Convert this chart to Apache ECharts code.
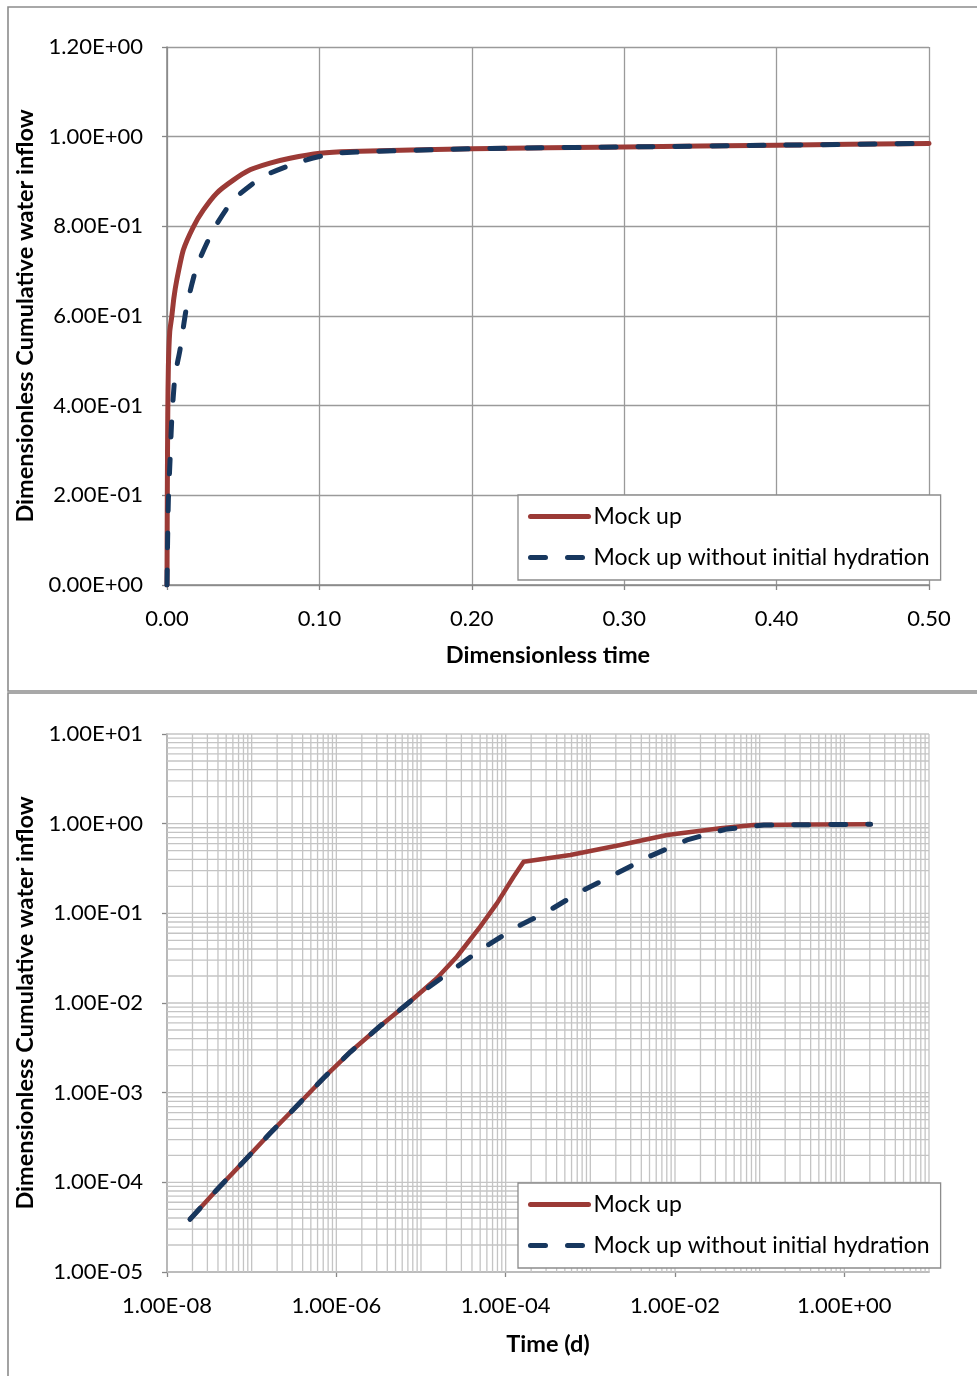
<!DOCTYPE html>
<html><head><meta charset="utf-8">
<script src="https://cdn.jsdelivr.net/npm/echarts@6/dist/echarts.min.js"></script>
<style>html,body{margin:0;padding:0;background:#fff}#c{width:977px;height:1376px}</style>
</head><body><div id="c"></div>
<script>
// ---- data ----
const seriesNames = ['Mock up', 'Mock up without initial hydration'];

// Top chart: dimensionless time vs dimensionless cumulative water inflow
const topXTicks = [0, 0.1, 0.2, 0.3, 0.4, 0.5];
const topYTicks = [0, 0.2, 0.4, 0.6, 0.8, 1.0, 1.2];
const topMockUp = [
  [0, 0], [0.0002, 0.2], [0.0005, 0.38], [0.0009, 0.487], [0.0018, 0.565], [0.0031, 0.598],
  [0.0045, 0.64], [0.0064, 0.68], [0.0107, 0.747], [0.0173, 0.799], [0.0238, 0.836],
  [0.0326, 0.874], [0.0435, 0.903], [0.0545, 0.926], [0.0676, 0.941], [0.0807, 0.952],
  [0.1004, 0.963], [0.12, 0.967], [0.2, 0.973], [0.3, 0.977], [0.4, 0.981], [0.5, 0.985]
];
const topNoHydration = [
  [0, 0], [0.0004, 0.1], [0.0009, 0.19], [0.002, 0.279], [0.0031, 0.368], [0.0052, 0.465],
  [0.0085, 0.524], [0.0129, 0.621], [0.0195, 0.71], [0.0304, 0.792], [0.0435, 0.859],
  [0.063, 0.911], [0.0873, 0.944], [0.111, 0.963], [0.2, 0.973], [0.3, 0.977], [0.4, 0.981], [0.5, 0.985]
];

// Bottom chart: time (d) vs dimensionless cumulative water inflow (log-log)
const bottomXTicks = [1e-8, 1e-6, 1e-4, 1e-2, 1];
const bottomXMax = 10;
const bottomYTicks = [1e-5, 1e-4, 1e-3, 1e-2, 1e-1, 1, 10];
const bottomMockUp = [
  [1.87e-8, 3.87e-5], [3.86e-8, 8.22e-5], [7.98e-8, 1.69e-4], [1.65e-7, 3.52e-4],
  [3.41e-7, 7.10e-4], [7.03e-7, 1.45e-3], [1.46e-6, 2.84e-3], [3.30e-6, 5.55e-3],
  [7.45e-6, 1.04e-2], [1.54e-5, 1.89e-2], [2.65e-5, 3.28e-2], [5.01e-5, 7.10e-2],
  [7.89e-5, 0.129], [1.24e-4, 0.256], [1.63e-4, 0.377], [5.81e-4, 0.448],
  [2.26e-3, 0.578], [8.07e-3, 0.748], [3.44e-2, 0.887], [8.51e-2, 0.966],
  [0.436, 0.98], [2.04, 0.985]
];
const bottomNoHydration = [
  [1.87e-8, 3.87e-5], [3.86e-8, 8.22e-5], [7.98e-8, 1.69e-4], [1.65e-7, 3.52e-4],
  [3.41e-7, 7.10e-4], [7.03e-7, 1.45e-3], [1.46e-6, 2.84e-3], [3.30e-6, 5.55e-3],
  [7.45e-6, 1.04e-2], [9.77e-6, 1.28e-2], [2.21e-5, 2.23e-2], [5.01e-5, 3.90e-2],
  [1.36e-4, 7.10e-2], [3.08e-4, 0.104], [7.62e-4, 0.174], [2.07e-3, 0.280],
  [5.12e-3, 0.436], [1.39e-2, 0.658], [3.94e-2, 0.865], [0.112, 0.966],
  [1.08, 0.98], [2.04, 0.985]
];

// ---- styling / helpers ----
const RED = '#9B3A36';
const BLUE = '#17375E';
const FONT = 'Lato';
const GRID_TOP = '#9a9a9a';
const GRID_BOT = '#c4c4c4';
const AXIS = '#868686';

function sci(v) {
  let s = Number(v).toExponential(2).toUpperCase();
  return s.replace(/E([+-])(\d)$/, 'E$10$2');
}

// decade + minor (2..9) gridline positions for the log-log chart
const xMin = bottomXTicks[0], yMin = bottomYTicks[0], yMax = bottomYTicks[bottomYTicks.length - 1];
const vGrid = [], hGrid = [];
for (let k = -8; k <= 0; k++) for (let m = 1; m <= 9; m++) vGrid.push([m * Math.pow(10, k), yMin]);
vGrid.push([bottomXMax, yMin]);
for (let k = -5; k <= 0; k++) for (let m = 1; m <= 9; m++) hGrid.push([xMin, m * Math.pow(10, k)]);
hGrid.push([xMin, yMax]);

const labelStyle = { fontFamily: FONT, fontSize: 22, color: '#000' };
const nameStyle = { fontFamily: FONT, fontSize: 23.5, fontWeight: 'bold', color: '#000' };

const legendBase = {
  orient: 'vertical', left: 518, padding: [10, 11, 11, 10],
  itemWidth: 58, itemHeight: 14, itemGap: 18,
  backgroundColor: '#fff', borderColor: '#8c8c8c', borderWidth: 1.3,
  textStyle: { fontFamily: FONT, fontSize: 23, color: '#000' },
  itemStyle: { opacity: 0 },
  lineStyle: { width: 5, cap: 'round' },
  data: seriesNames
};

function axisCommon() {
  return {
    axisLine: { show: true, lineStyle: { color: AXIS, width: 1.5 } },
    axisTick: { show: true, inside: false, length: 5, lineStyle: { color: AXIS, width: 1.3 } }
  };
}

const chart = echarts.init(document.getElementById('c'), null, { renderer: 'canvas' });
chart.setOption({
  animation: false,
  backgroundColor: '#fff',
  graphic: [
    { type: 'rect', shape: { x: 8, y: 7, width: 990, height: 684 }, style: { fill: 'none', stroke: '#8c8c8c', lineWidth: 1.6 }, z: 100, silent: true },
    { type: 'rect', shape: { x: 8, y: 693, width: 990, height: 700 }, style: { fill: 'none', stroke: '#8c8c8c', lineWidth: 1.6 }, z: 100, silent: true }
  ],
  grid: [
    { left: 167, right: 48, top: 47, height: 538, containLabel: false },
    { left: 167, right: 48, top: 734, height: 538, containLabel: false }
  ],
  legend: [
    Object.assign({}, legendBase, { top: 495 }),
    Object.assign({}, legendBase, { top: 1183 })
  ],
  xAxis: [
    Object.assign(axisCommon(), {
      gridIndex: 0, type: 'value',
      min: topXTicks[0], max: topXTicks[topXTicks.length - 1], interval: topXTicks[1] - topXTicks[0],
      name: 'Dimensionless time', nameLocation: 'middle', nameGap: 58, nameTextStyle: nameStyle,
      axisLabel: Object.assign({ margin: 23, formatter: v => Number(v).toFixed(2) }, labelStyle),
      splitLine: { show: true, lineStyle: { color: GRID_TOP, width: 1.3 } }
    }),
    Object.assign(axisCommon(), {
      gridIndex: 1, type: 'log', logBase: 10,
      min: xMin, max: bottomXMax, interval: 2,
      name: 'Time (d)', nameLocation: 'middle', nameGap: 60, nameTextStyle: nameStyle,
      axisLabel: Object.assign({ margin: 23, showMaxLabel: false, formatter: v => (v > 5 ? '' : sci(v)) }, labelStyle),
      splitLine: { show: false }
    })
  ],
  yAxis: [
    Object.assign(axisCommon(), {
      gridIndex: 0, type: 'value',
      min: topYTicks[0], max: topYTicks[topYTicks.length - 1], interval: topYTicks[1] - topYTicks[0],
      name: 'Dimensionless Cumulative water inflow', nameLocation: 'middle', nameGap: 123, nameTextStyle: nameStyle,
      axisLabel: Object.assign({ margin: 24, formatter: v => sci(v) }, labelStyle),
      splitLine: { show: true, lineStyle: { color: GRID_TOP, width: 1.3 } }
    }),
    Object.assign(axisCommon(), {
      gridIndex: 1, type: 'log', logBase: 10,
      min: yMin, max: yMax, interval: 1,
      name: 'Dimensionless Cumulative water inflow', nameLocation: 'middle', nameGap: 123, nameTextStyle: nameStyle,
      axisLabel: Object.assign({ margin: 24, formatter: v => sci(v) }, labelStyle),
      splitLine: { show: false }
    })
  ],
  series: [
    {
      name: 'vgrid', type: 'custom', xAxisIndex: 1, yAxisIndex: 1, z: 1, silent: true, clip: false,
      data: vGrid,
      renderItem: (params, api) => {
        const x = api.value(0);
        const p1 = api.coord([x, yMin]), p2 = api.coord([x, yMax]);
        return { type: 'line', shape: { x1: p1[0], y1: p1[1], x2: p2[0], y2: p2[1] }, style: { stroke: GRID_BOT, lineWidth: 1.3 } };
      }
    },
    {
      name: 'hgrid', type: 'custom', xAxisIndex: 1, yAxisIndex: 1, z: 1, silent: true, clip: false,
      data: hGrid,
      renderItem: (params, api) => {
        const y = api.value(1);
        const p1 = api.coord([xMin, y]), p2 = api.coord([bottomXMax, y]);
        return { type: 'line', shape: { x1: p1[0], y1: p1[1], x2: p2[0], y2: p2[1] }, style: { stroke: GRID_BOT, lineWidth: 1.3 } };
      }
    },
    {
      name: seriesNames[0], type: 'line', xAxisIndex: 0, yAxisIndex: 0, z: 3,
      data: topMockUp, symbol: 'none', smooth: 0.2,
      lineStyle: { color: RED, width: 5, cap: 'round', join: 'round' }, itemStyle: { color: RED }
    },
    {
      name: seriesNames[1], type: 'line', xAxisIndex: 0, yAxisIndex: 0, z: 4,
      data: topNoHydration, symbol: 'none', smooth: 0.2,
      lineStyle: { color: BLUE, width: 5, type: [15, 22], cap: 'round', join: 'round' }, itemStyle: { color: BLUE }
    },
    {
      name: seriesNames[0], type: 'line', xAxisIndex: 1, yAxisIndex: 1, z: 3,
      data: bottomMockUp, symbol: 'none', smooth: false,
      lineStyle: { color: RED, width: 4.5, cap: 'round', join: 'round' }, itemStyle: { color: RED }
    },
    {
      name: seriesNames[1], type: 'line', xAxisIndex: 1, yAxisIndex: 1, z: 4,
      data: bottomNoHydration, symbol: 'none', smooth: false,
      lineStyle: { color: BLUE, width: 5, type: [15, 22], cap: 'round', join: 'round' }, itemStyle: { color: BLUE }
    }
  ]
});
</script>
</body></html>
